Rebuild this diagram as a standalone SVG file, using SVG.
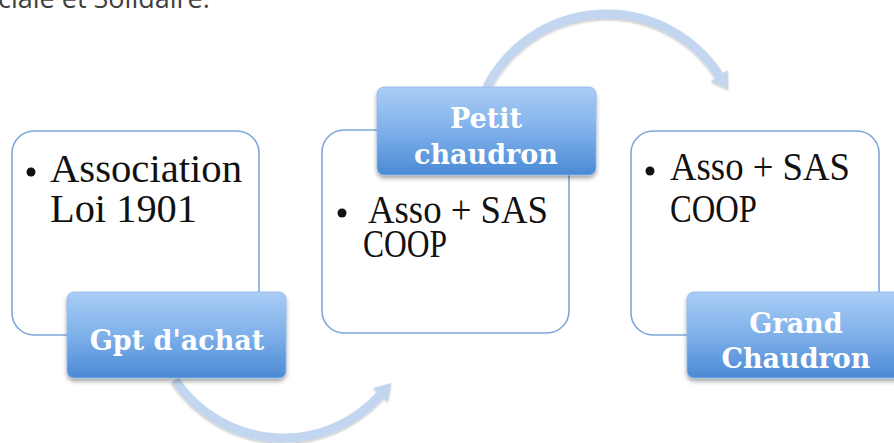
<svg xmlns="http://www.w3.org/2000/svg" width="894" height="443" viewBox="0 0 894 443">
<defs>
<linearGradient id="lab" x1="0" y1="0" x2="0" y2="1">
<stop offset="0" stop-color="#aacdf6"/>
<stop offset="0.5" stop-color="#7fb0ea"/>
<stop offset="1" stop-color="#4a8ad4"/>
</linearGradient>
<filter id="sh" x="-10%" y="-10%" width="120%" height="130%">
<feDropShadow dx="0" dy="3" stdDeviation="2" flood-color="#000" flood-opacity="0.35"/>
</filter>
<filter id="ash" x="-10%" y="-10%" width="120%" height="130%">
<feDropShadow dx="0" dy="1.5" stdDeviation="1.2" flood-color="#000" flood-opacity="0.25"/>
</filter>
</defs>
<style>
.box{fill:#fff;stroke:#7ea8d8;stroke-width:1.6}
.lab{fill:url(#lab);stroke:#8fb6e6;stroke-width:0.8;filter:url(#sh)}
.body{font-family:"Liberation Serif",serif;font-size:39px;fill:#111}
.lt{font-family:"DejaVu Serif",serif;font-weight:bold;font-size:27px;fill:#fff;text-anchor:middle}
.shaft{fill:none;stroke:#c2d6f0;stroke-width:9}
.head{fill:#c2d6f0}
.arrow{filter:url(#ash)}
</style>
<text x="-2" y="8" font-family="Open Sans, sans-serif" font-size="27" fill="#3f3f3f">ciale et Solidaire.</text>
<g id="connectors">
<g class="arrow">
<path class="shaft" d="M175,380 A130.5,130.5 0 0 0 380.5,394.8"/>
<polygon class="head" points="387.9,401.5 391.2,382.9 373.1,388.1"/>
</g>
<g class="arrow">
<path class="shaft" d="M487,87 A134.3,134.3 0 0 1 719.3,75.6"/>
<polygon class="head" points="727.7,70.1 728.1,89 710.9,81.1"/>
</g>
</g>
<g id="node1">
<rect class="box" x="12" y="131" width="247" height="204" rx="22"/>
<circle cx="31" cy="172" r="4.5" fill="#111"/>
<text class="body" x="50" y="182" textLength="192" lengthAdjust="spacingAndGlyphs">Association</text>
<text class="body" x="50" y="222" textLength="147" lengthAdjust="spacingAndGlyphs">Loi 1901</text>
<rect class="lab" x="67" y="292" width="219" height="86" rx="7"/>
<text class="lt" x="177" y="350">Gpt d'achat</text>
</g>
<g id="node2">
<rect class="box" x="322" y="130" width="247" height="203" rx="22"/>
<circle cx="342" cy="213" r="4.5" fill="#111"/>
<text class="body" x="368" y="223" textLength="180" lengthAdjust="spacingAndGlyphs">Asso + SAS</text>
<text class="body" x="363" y="257" textLength="84" lengthAdjust="spacingAndGlyphs">COOP</text>
<rect class="lab" x="377" y="87" width="219" height="88" rx="7"/>
<text class="lt" x="486" y="128">Petit</text>
<text class="lt" x="486" y="164">chaudron</text>
</g>
<g id="node3">
<rect class="box" x="631" y="131" width="248" height="204" rx="22"/>
<circle cx="650" cy="171" r="4.5" fill="#111"/>
<text class="body" x="670" y="180" textLength="180" lengthAdjust="spacingAndGlyphs">Asso + SAS</text>
<text class="body" x="670" y="222" textLength="87" lengthAdjust="spacingAndGlyphs">COOP</text>
<rect class="lab" x="687" y="292" width="219" height="86" rx="7"/>
<text class="lt" x="796" y="333">Grand</text>
<text class="lt" x="796" y="368">Chaudron</text>
</g>
</svg>
